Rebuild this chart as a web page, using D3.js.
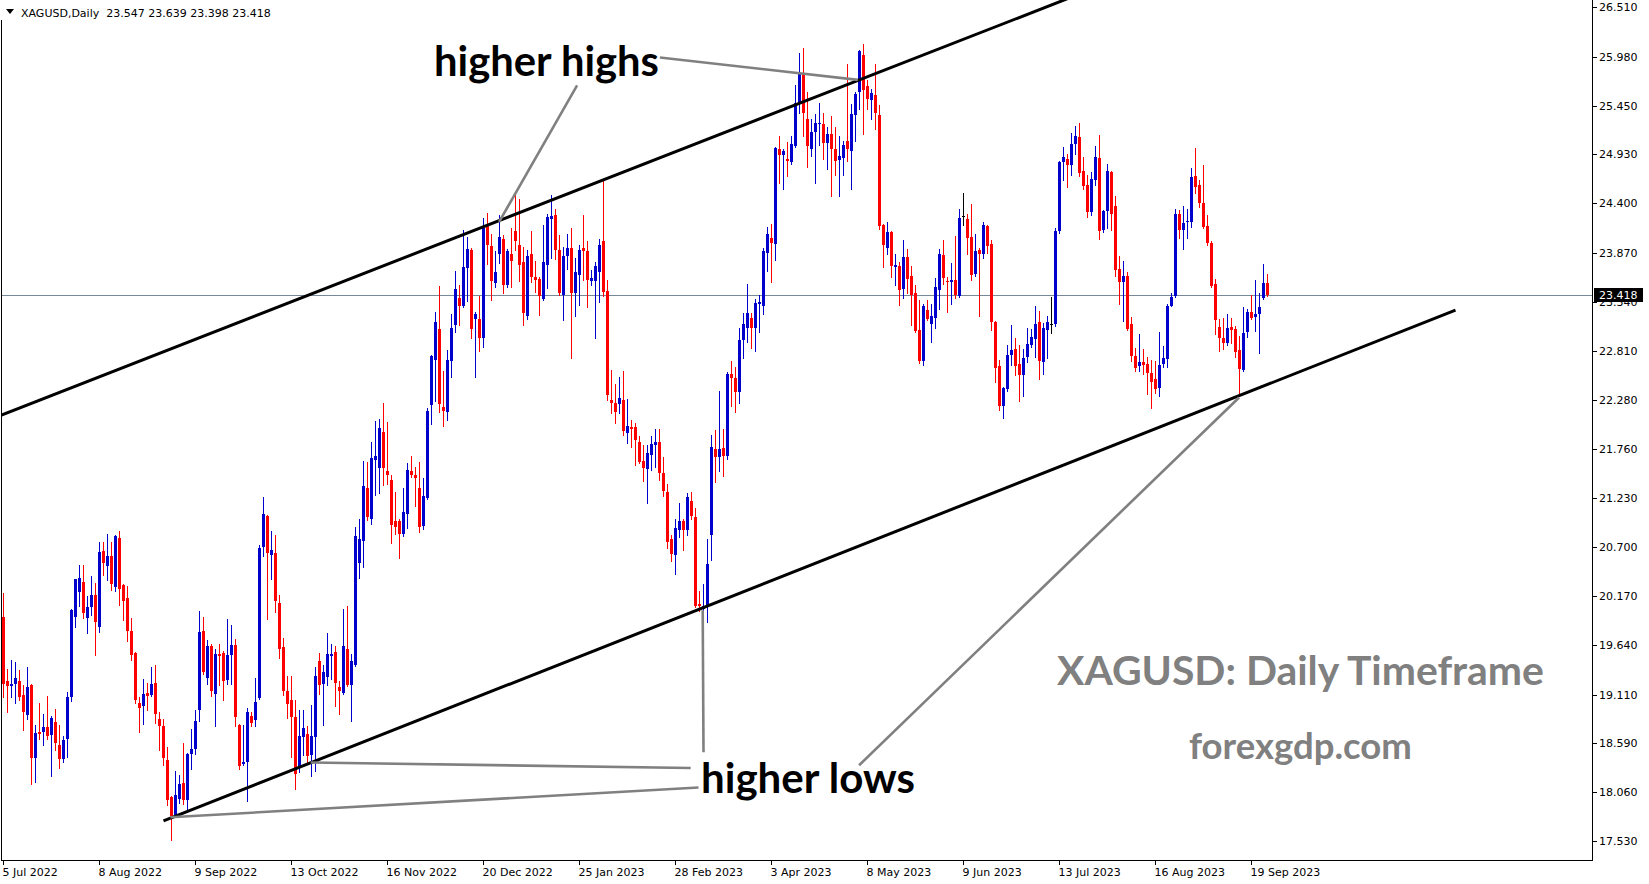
<!DOCTYPE html>
<html><head><meta charset="utf-8">
<script src="https://cdn.jsdelivr.net/npm/d3@7"></script>
<style>html,body{margin:0;padding:0;background:#fff;overflow:hidden}</style>
</head><body>
<svg id="chart" width="1649" height="884"></svg>
<script>
// ---------------- data ----------------
const symbolName = "XAGUSD,Daily";
const opens = [
19.95,19.26,19.20,19.23,19.26,19.11,18.89,19.21,18.43,18.71,
18.71,18.76,18.68,18.82,18.57,18.42,18.63,19.09,19.95,20.22,
20.32,19.94,20.05,20.18,19.84,20.66,20.50,20.60,20.27,20.80,
20.29,20.15,19.80,19.56,19.02,18.99,19.13,19.11,19.24,18.85,
18.77,18.41,18.01,17.81,17.99,18.16,17.98,18.47,18.52,18.95,
19.80,19.29,19.63,19.12,19.55,19.56,19.27,19.54,19.64,18.78,
18.36,18.38,18.88,18.84,19.07,20.70,21.03,20.61,20.64,20.10,
19.62,19.15,19.05,18.87,18.33,18.65,18.69,18.46,18.65,19.47,
19.22,19.30,19.53,19.57,19.19,19.13,19.60,19.21,19.43,20.53,
20.76,21.34,21.00,21.64,21.55,21.94,21.52,21.42,20.98,20.98,
20.84,21.05,21.52,21.47,21.33,20.93,21.23,22.23,22.71,23.05,
22.21,22.15,22.70,23.09,23.38,23.29,23.70,23.90,23.16,23.16,
22.95,24.17,23.94,23.54,23.85,24.02,23.52,23.86,24.10,23.95,
23.77,23.19,23.86,23.61,23.59,23.37,23.74,24.23,24.27,23.90,
23.41,23.83,23.92,23.44,23.63,23.92,23.89,23.56,23.56,23.66,
23.99,23.46,22.28,22.25,22.24,22.28,21.93,21.99,21.99,21.83,
21.63,21.54,21.69,21.80,21.83,21.50,21.29,20.79,20.61,20.88,
20.98,20.88,21.20,21.02,20.09,20.03,20.07,20.83,21.76,21.67,
21.77,21.68,22.56,22.52,22.37,22.93,23.06,23.17,23.06,23.32,
23.29,23.87,24.03,23.96,24.98,24.92,24.88,24.84,25.02,25.48,
25.80,25.31,24.99,25.17,25.25,25.25,25.05,25.15,24.99,24.87,
24.89,25.07,24.96,25.35,25.60,26.00,25.66,25.51,25.57,25.35,
24.17,23.92,24.09,23.72,23.73,23.48,23.82,23.62,23.43,23.04,
22.70,23.25,23.10,23.17,23.47,23.84,23.56,23.55,23.58,23.40,
24.26,24.23,24.04,23.64,23.90,23.86,24.16,23.96,23.12,22.65,
22.22,22.40,22.77,22.83,22.67,22.55,22.75,22.87,22.94,23.12,
22.69,23.04,23.10,23.10,24.10,24.84,24.88,24.81,25.04,25.11,
24.75,24.60,24.31,24.65,24.89,24.11,24.32,24.74,24.37,23.69,
23.55,23.62,23.10,22.76,22.65,22.69,22.67,22.57,22.51,22.41,
22.67,22.72,23.30,23.40,24.29,24.11,24.20,24.20,24.69,24.60,
24.40,24.16,23.97,23.53,23.07,22.95,22.90,23.07,23.05,22.82,
22.61,23.02,23.23,23.18,23.21,23.38,23.547];
const highs = [
20.21,19.39,19.48,19.46,19.38,19.21,19.41,19.22,18.78,19.02,
18.90,19.10,18.88,18.96,18.78,18.66,19.14,20.03,20.36,20.51,
20.51,20.17,20.39,20.31,20.75,20.75,20.84,20.75,20.83,20.87,
20.30,20.28,19.94,19.57,19.09,19.28,19.24,19.41,19.43,18.92,
18.85,18.55,18.02,18.29,18.25,18.59,18.48,18.74,18.95,20.01,
19.95,19.70,19.66,19.60,19.66,19.58,19.92,19.86,19.71,18.79,
18.78,18.97,18.92,19.29,20.72,21.24,21.04,20.87,20.83,20.18,
19.72,19.31,19.31,19.05,18.95,18.95,18.77,19.00,19.41,19.56,
19.43,19.77,19.66,19.63,19.26,20.03,20.07,19.55,20.91,21.00,
21.63,21.61,21.83,22.06,22.08,22.25,22.05,21.47,21.29,21.00,
21.33,21.60,21.68,21.56,21.61,21.44,22.20,22.77,23.23,23.51,
22.60,22.82,23.21,23.67,23.52,24.11,24.04,23.92,23.23,23.40,
24.24,24.30,24.07,23.89,24.27,24.06,23.91,24.13,24.50,24.45,
23.93,23.90,24.10,23.78,23.61,24.17,24.29,24.49,24.34,24.06,
23.93,24.07,24.14,23.81,23.95,24.28,23.99,23.68,23.77,24.02,
24.65,23.58,22.61,22.46,22.53,22.60,22.29,22.07,22.04,21.89,
21.80,21.80,21.90,21.97,21.97,21.67,21.38,20.83,21.00,21.17,
21.00,21.28,21.29,21.12,20.23,20.30,20.79,21.91,21.96,22.38,
21.97,22.58,22.70,22.64,23.06,23.22,23.53,23.22,23.37,23.41,
23.92,24.15,24.18,25.01,25.12,24.99,25.06,25.13,25.67,26.02,
26.07,25.60,25.31,25.36,25.48,25.37,25.22,25.34,25.22,25.13,
25.07,25.90,25.47,25.60,26.05,26.12,25.73,25.63,25.90,25.46,
24.18,24.20,24.10,23.86,23.77,24.01,23.91,23.73,23.52,23.36,
23.32,23.36,23.32,23.60,23.91,24.01,23.61,23.76,24.05,24.34,
24.51,24.29,24.39,24.07,23.92,24.20,24.17,24.01,23.13,22.71,
22.42,22.88,23.09,22.95,22.87,22.83,23.06,23.05,23.30,23.24,
23.11,23.19,23.39,24.13,24.86,25.01,24.93,25.16,25.23,25.26,
24.90,24.71,24.74,25.02,25.14,24.33,24.82,24.75,24.48,23.83,
23.78,23.66,23.18,22.84,22.99,22.83,22.75,22.71,22.70,23.01,
22.86,23.32,23.44,24.34,24.33,24.37,24.34,24.78,25.00,24.65,
24.81,24.28,23.99,23.59,23.16,23.17,23.21,23.17,23.08,22.97,
23.28,23.26,23.41,23.58,23.43,23.75,23.639];
const lows = [
19.09,18.92,19.09,19.02,19.05,18.73,18.85,18.15,18.17,18.63,
18.57,18.63,18.23,18.51,18.32,18.38,18.44,19.04,19.84,20.07,
19.94,19.77,19.97,19.54,19.79,20.40,20.34,20.24,20.23,20.08,
19.91,19.69,19.48,19.02,18.71,18.79,18.95,19.10,18.81,18.51,
18.35,17.92,17.55,17.81,17.94,17.93,17.85,18.31,18.47,18.83,
19.33,19.23,19.10,18.77,19.21,19.05,19.23,19.23,18.77,18.31,
18.35,17.96,18.77,18.77,19.06,20.60,19.93,20.36,20.00,19.51,
19.11,18.86,18.44,18.09,18.28,18.46,18.37,18.23,18.29,19.12,
18.78,19.21,19.28,18.99,18.90,19.12,19.20,18.83,19.42,20.37,
20.48,20.99,20.95,21.26,21.28,21.37,21.38,20.74,20.84,20.58,
20.82,20.90,21.45,21.14,20.86,20.89,21.22,22.02,22.27,22.15,
22.00,22.07,22.53,23.02,23.09,23.28,23.35,22.95,22.53,22.81,
22.85,23.75,23.36,23.50,23.76,23.44,23.50,23.50,23.90,23.56,
23.09,23.16,23.55,23.45,23.20,23.36,23.49,23.81,23.80,23.41,
23.14,23.69,22.74,23.19,23.31,23.58,23.28,23.52,22.95,23.34,
23.40,22.28,22.14,22.04,22.14,21.91,21.82,21.78,21.58,21.60,
21.41,21.17,21.53,21.56,21.42,21.25,20.69,20.55,20.41,20.81,
20.67,20.83,21.00,20.05,20.01,19.92,19.89,20.56,21.40,21.52,
21.46,21.65,22.22,22.15,22.25,22.74,22.91,22.84,22.81,23.02,
23.21,23.67,23.55,23.79,24.62,24.55,24.70,24.82,25.01,25.37,
25.13,24.79,24.91,24.62,25.03,24.88,24.77,24.48,24.71,24.48,
24.71,24.86,24.56,25.07,25.42,25.15,25.42,25.31,25.20,24.12,
23.72,23.86,23.61,23.52,23.31,23.38,23.43,23.09,23.02,22.68,
22.66,23.14,22.91,23.06,23.26,23.53,23.23,23.32,23.38,23.39,
24.17,23.86,23.58,23.62,23.19,23.81,23.87,23.04,22.48,22.17,
22.09,22.38,22.66,22.55,22.27,22.33,22.69,22.85,22.75,22.51,
22.56,22.73,23.00,23.08,24.08,24.65,24.58,24.71,24.93,24.70,
24.56,24.25,24.27,24.60,24.02,24.09,24.13,24.11,23.62,23.32,
23.13,23.04,22.70,22.60,22.60,22.56,22.35,22.20,22.36,22.33,
22.64,22.64,23.29,23.39,24.03,23.91,24.03,24.15,24.51,24.36,
24.14,23.95,23.50,22.99,22.81,22.83,22.88,22.90,22.75,22.35,
22.60,22.96,23.16,23.03,22.79,23.37,23.398];
const closes = [
19.22,19.20,19.23,19.29,19.09,18.92,19.19,18.43,18.70,18.69,
18.76,18.66,18.86,18.59,18.42,18.62,19.09,20.02,20.35,20.37,
19.99,20.05,20.18,19.89,20.65,20.53,20.60,20.30,20.82,20.25,
20.12,19.80,19.54,19.05,18.97,19.12,19.10,19.23,18.90,18.77,
18.43,17.98,17.80,18.03,18.15,17.98,18.47,18.53,18.83,19.78,
19.35,19.63,19.15,19.55,19.53,19.26,19.54,19.64,18.87,18.34,
18.39,18.92,18.81,19.03,20.69,21.05,20.63,20.67,20.12,19.60,
19.15,19.01,18.87,18.26,18.66,18.75,18.45,18.66,19.31,19.21,
19.35,19.55,19.55,19.24,19.15,19.63,19.21,19.47,20.82,20.79,
21.36,21.02,21.66,21.68,21.98,21.55,21.47,20.94,20.91,20.84,
21.08,21.53,21.47,21.44,20.92,21.25,22.16,22.76,23.12,22.24,
22.16,22.71,23.06,23.48,23.29,23.71,23.91,23.05,23.21,22.95,
24.14,23.95,23.56,23.66,24.04,23.52,23.89,23.78,24.00,23.74,
23.22,23.83,23.61,23.58,23.40,23.77,24.25,24.26,23.90,23.44,
23.83,23.92,23.44,23.66,23.90,23.89,23.58,23.60,23.73,23.95,
23.45,22.34,22.25,22.15,22.30,21.95,22.00,21.97,21.85,21.62,
21.55,21.71,21.81,21.83,21.50,21.30,20.75,20.62,20.90,20.98,
20.88,21.24,21.03,20.06,20.06,20.06,20.52,21.78,21.67,21.75,
21.68,22.56,22.52,22.37,22.93,23.10,23.22,23.06,23.33,23.34,
23.89,24.07,23.97,25.00,24.92,24.96,24.86,25.04,25.48,25.79,
25.37,25.02,25.17,25.27,25.27,25.05,25.15,24.99,24.86,24.91,
25.03,24.98,25.36,25.58,26.04,25.62,25.52,25.59,25.37,24.16,
23.95,24.09,23.73,23.74,23.47,23.82,23.59,23.41,23.03,22.70,
23.30,23.15,23.19,23.50,23.86,23.60,23.55,23.58,23.41,24.24,
24.26,24.03,23.63,23.89,23.86,24.17,23.94,23.12,22.63,22.22,
22.41,22.77,22.82,22.65,22.55,22.74,22.89,22.96,23.10,22.70,
23.06,23.12,23.10,24.10,24.85,24.90,24.81,25.04,25.13,24.73,
24.59,24.31,24.66,24.90,24.10,24.32,24.75,24.29,23.68,23.55,
23.62,23.05,22.76,22.63,22.69,22.66,22.57,22.48,22.40,22.66,
22.73,23.29,23.39,24.29,24.11,24.19,24.21,24.68,24.58,24.40,
24.15,23.97,23.51,23.14,22.95,22.90,23.06,23.04,22.80,22.62,
23.00,23.23,23.17,23.21,23.28,23.54,23.418];

const dateLabels = ["5 Jul 2022","8 Aug 2022","9 Sep 2022","13 Oct 2022","16 Nov 2022","20 Dec 2022",
  "25 Jan 2023","28 Feb 2023","3 Apr 2023","8 May 2023","9 Jun 2023","13 Jul 2023","16 Aug 2023","19 Sep 2023"];
const dateLabelBars = [0,24,48,72,96,120,144,168,192,216,240,264,288,312];
const priceTicks = [26.510,25.980,25.450,24.930,24.400,23.870,23.340,22.810,22.280,
  21.760,21.230,20.700,20.170,19.640,19.110,18.590,18.060,17.530];
// trend lines as [bar index, price] anchors
const upperChannel = [[0,22.13],[250,26.335]];
const lowerChannel = [[40,17.75],[363,23.25]];
// annotation pointer lines [bar, price] -> [bar, price]
const highsPointers = [[[164.1,25.97],[213.6,25.73]],[[143.4,25.67],[123.9,24.20]]];
const lowsPointers = [[[174.8,20.02],[175.0,18.49]],[[171.8,18.32],[76.8,18.38]],
  [[173.75,18.11],[41.7,17.79]],[[213.9,18.35],[308.9,22.31]]];
const annotationTexts = ["higher highs","higher lows"];
const watermarkTexts = ["XAGUSD: Daily Timeframe","forexgdp.com"];

// ---------------- layout ----------------
const W = 1649, H = 884;
const plotL = 1.5, plotR = 1592.5, plotB = 860.5;
const bull = "#0000cd", bear = "#ff0000", doji = "#000000";

const svg = d3.select("#chart");
const x = d3.scaleLinear().domain([0, 316]).range([3.5, 1267.5]);
const y = d3.scaleLinear().domain([17.53, 26.51]).range([841.4, 7.4]);

svg.append("rect").attr("width", W).attr("height", H).attr("fill", "#fff");

const defs = svg.append("defs");
defs.append("clipPath").attr("id", "plotClip").append("rect")
  .attr("x", 2).attr("y", 0).attr("width", plotR - 2.5).attr("height", plotB - 0.5);

const plot = svg.append("g").attr("clip-path", "url(#plotClip)");

// current bid line
const last = closes[closes.length - 1];
plot.append("line").attr("x1", 0).attr("x2", plotR)
  .attr("y1", Math.round(y(last)) + 0.5).attr("y2", Math.round(y(last)) + 0.5)
  .attr("stroke", "#778899").attr("stroke-width", 1).attr("shape-rendering", "crispEdges");

// candles
const bars = d3.range(opens.length).map(i => ({i, o: opens[i], h: highs[i], l: lows[i], c: closes[i]}));
const cg = plot.append("g").attr("shape-rendering", "crispEdges");
const colorOf = d => d.c > d.o ? bull : (d.c < d.o ? bear : doji);
cg.selectAll("line.wick").data(bars).join("line").attr("class", "wick")
  .attr("x1", d => x(d.i)).attr("x2", d => x(d.i))
  .attr("y1", d => Math.round(y(d.h))).attr("y2", d => Math.round(y(d.l)) + 1)
  .attr("stroke", colorOf).attr("stroke-width", 1);
cg.selectAll("rect.body").data(bars).join("rect").attr("class", "body")
  .attr("x", d => x(d.i) - 1.5).attr("width", 3)
  .attr("y", d => Math.round(y(Math.max(d.o, d.c))))
  .attr("height", d => Math.max(1, Math.round(y(Math.min(d.o, d.c))) - Math.round(y(Math.max(d.o, d.c)))))
  .attr("fill", colorOf);

// trend lines
function lineThrough(a, b, i0, i1) {
  const s = (b[1] - a[1]) / (b[0] - a[0]);
  return [[x(i0), y(a[1] + s * (i0 - a[0]))], [x(i1), y(a[1] + s * (i1 - a[0]))]];
}
const up = lineThrough(upperChannel[0], upperChannel[1], -2, 300);
plot.append("line").attr("x1", up[0][0]).attr("y1", up[0][1]).attr("x2", up[1][0]).attr("y2", up[1][1])
  .attr("stroke", "#000").attr("stroke-width", 3);
plot.append("line")
  .attr("x1", x(lowerChannel[0][0])).attr("y1", y(lowerChannel[0][1]))
  .attr("x2", x(lowerChannel[1][0])).attr("y2", y(lowerChannel[1][1]))
  .attr("stroke", "#000").attr("stroke-width", 3);

// pointer lines
plot.selectAll("line.ptr").data(highsPointers.concat(lowsPointers)).join("line").attr("class", "ptr")
  .attr("x1", d => x(d[0][0])).attr("y1", d => y(d[0][1]))
  .attr("x2", d => x(d[1][0])).attr("y2", d => y(d[1][1]))
  .attr("stroke", "#808080").attr("stroke-width", 2.6);

// fitted texts
function fitText(g, txt, left, right, baseline, family, weight, color) {
  const t = g.append("text").attr("x", left).attr("y", baseline)
    .attr("font-family", family).attr("font-weight", weight).attr("font-size", 40)
    .attr("fill", color).text(txt);
  const w = t.node().getComputedTextLength();
  t.attr("font-size", 40 * (right - left) / w);
  return t;
}
const tg = svg.append("g");
fitText(tg, annotationTexts[0], 434, 659, 76, "Lato, 'Open Sans', sans-serif", 700, "#000");
fitText(tg, annotationTexts[1], 701, 915, 793, "Lato, 'Open Sans', sans-serif", 700, "#000");
fitText(tg, watermarkTexts[0], 1057, 1544, 685, "Lato, 'Open Sans', sans-serif", 700, "#808080");
fitText(tg, watermarkTexts[1], 1189, 1412, 759, "Lato, 'Open Sans', sans-serif", 700, "#808080");

// frame
const fr = svg.append("g").attr("stroke", "#000").attr("stroke-width", 1).attr("shape-rendering", "crispEdges");
fr.append("line").attr("x1", plotL).attr("x2", plotL).attr("y1", 20).attr("y2", plotB);
fr.append("line").attr("x1", plotL).attr("x2", plotR).attr("y1", plotB).attr("y2", plotB);
fr.append("line").attr("x1", plotR).attr("x2", plotR).attr("y1", 0).attr("y2", plotB);

// right price axis
const ax = svg.append("g");
ax.selectAll("line.pt").data(priceTicks).join("line").attr("class", "pt")
  .attr("x1", plotR).attr("x2", plotR + 4)
  .attr("y1", d => Math.round(y(d)) + 0.5).attr("y2", d => Math.round(y(d)) + 0.5)
  .attr("stroke", "#000").attr("shape-rendering", "crispEdges");
ax.selectAll("text.pl").data(priceTicks).join("text").attr("class", "pl")
  .attr("x", 1599).attr("y", d => y(d)).attr("dy", "0.36em")
  .attr("font-family", "'DejaVu Sans', sans-serif").attr("font-size", 11).attr("fill", "#000")
  .text(d => d.toFixed(3));

// bottom time axis
ax.selectAll("line.dt").data(dateLabelBars).join("line").attr("class", "dt")
  .attr("x1", d => x(d)).attr("x2", d => x(d)).attr("y1", plotB).attr("y2", plotB + 4)
  .attr("stroke", "#000").attr("shape-rendering", "crispEdges");
ax.selectAll("text.dl").data(dateLabelBars).join("text").attr("class", "dl")
  .attr("x", d => x(d) - 1).attr("y", 876)
  .attr("font-family", "'DejaVu Sans', sans-serif").attr("font-size", 11).attr("fill", "#000")
  .text((d, k) => dateLabels[k]);

// current price label
const lp = y(last);
svg.append("rect").attr("x", 1594).attr("y", Math.round(lp) - 7).attr("width", 49).attr("height", 14).attr("fill", "#000");
svg.append("text").attr("x", 1599).attr("y", lp).attr("dy", "0.36em")
  .attr("font-family", "'DejaVu Sans', sans-serif").attr("font-size", 11).attr("fill", "#fff")
  .text(last.toFixed(3));

// header
const hdr = svg.append("g");
hdr.append("path").attr("d", "M6,9 L14,9 L10,14 Z").attr("fill", "#000");
hdr.append("text").attr("x", 21).attr("y", 16.5).style("white-space", "pre")
  .attr("font-family", "'DejaVu Sans', sans-serif").attr("font-size", 11).attr("fill", "#000")
  .text(symbolName + "  " + [opens, highs, lows, closes].map(a => a[a.length - 1].toFixed(3)).join(" "));
</script>
</body></html>
